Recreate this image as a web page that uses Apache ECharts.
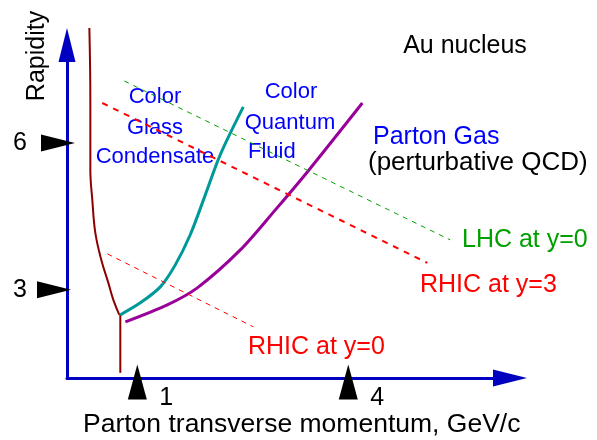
<!DOCTYPE html>
<html>
<head>
<meta charset="utf-8">
<title>Rapidity vs parton momentum</title>
<script src="https://cdn.jsdelivr.net/npm/echarts@6/dist/echarts.min.js"></script>
<style>
* { margin: 0; padding: 0; }
body { background: #fff; }
</style>
</head>
<body>
<div id="main" style="width:597px;height:440px;"></div>
<script>
// axis ranges (GeV/c on x, rapidity on y)
var xMin = 0, xMax = 6.3;
var yMin = 1.2, yMax = 8.0;

// tick marks shown as black triangles
var xTicks = [1, 4];
var yTicks = [6, 3];

// saturation boundary (brown)
var satX = [0.318, 0.332, 0.332, 0.36, 0.403, 0.488, 0.588, 0.659, 0.744];
var satY = [8.347, 6.878, 5.449, 4.837, 4.163, 3.612, 3.143, 2.796, 2.49];
// its vertical tail
var tailX = [0.758, 0.758];
var tailY = [2.49, 1.306];

// color glass condensate / quantum fluid border (teal)
var cgcX = [0.758, 1.043, 1.327, 1.54, 1.754, 1.967, 2.18, 2.507];
var cgcY = [2.49, 2.735, 3.061, 3.51, 4.13, 4.94, 5.76, 6.735];

// quantum fluid / parton gas border (purple)
var cqfX = [0.83, 1.427, 1.853, 2.465, 2.963, 3.418, 4.2];
var cqfY = [2.347, 2.694, 3.041, 3.816, 4.633, 5.408, 6.816];

// collider lines
var lhcX = [0.815, 5.45], lhcY = [7.265, 4.02];
var rhic3X = [0.502, 5.124], rhic3Y = [6.816, 3.551];
var rhic0X = [0.574, 2.65], rhic0Y = [3.735, 2.245];

function pairs(xs, ys) {
  var out = [];
  for (var i = 0; i < xs.length; i++) out.push([xs[i], ys[i]]);
  return out;
}

var font = '"Liberation Sans", Arial, sans-serif';
var axisBlue = '#0000c0';

function txt(text, x, y, size, color, align, rot) {
  return {
    type: 'text',
    x: x,
    y: y,
    rotation: rot || 0,
    style: {
      text: text,
      fontFamily: font,
      fontSize: size,
      fill: color,
      align: align || 'center',
      verticalAlign: 'middle'
    }
  };
}

var chart = echarts.init(document.getElementById('main'));
chart.setOption({
  animation: false,
  grid: { left: 67, right: 87, top: 45, bottom: 62 },
  xAxis: {
    type: 'value',
    min: xMin,
    max: xMax,
    axisLine: {
      onZero: false,
      symbol: ['none', 'triangle'],
      symbolSize: [17, 34],
      lineStyle: { color: axisBlue, width: 3 }
    },
    axisTick: { show: false },
    splitLine: { show: false },
    axisLabel: {
      customValues: xTicks,
      margin: 8,
      padding: [0, 0, 0, 58],
      fontFamily: font,
      fontSize: 25,
      color: '#000'
    }
  },
  yAxis: {
    type: 'value',
    min: yMin,
    max: yMax,
    axisLine: {
      onZero: false,
      symbol: ['none', 'triangle'],
      symbolSize: [17, 34],
      lineStyle: { color: axisBlue, width: 3 }
    },
    axisTick: { show: false },
    splitLine: { show: false },
    axisLabel: {
      customValues: yTicks,
      margin: 40,
      fontFamily: font,
      fontSize: 25,
      color: '#000'
    }
  },
  series: [
    {
      type: 'line',
      data: pairs(satX, satY),
      smooth: 0.4,
      showSymbol: false,
      clip: false,
      lineStyle: { color: '#8c0000', width: 2 }
    },
    {
      type: 'line',
      data: pairs(tailX, tailY),
      showSymbol: false,
      lineStyle: { color: '#8c0000', width: 2 }
    },
    {
      type: 'line',
      data: pairs(cgcX, cgcY),
      smooth: 0.3,
      showSymbol: false,
      lineStyle: { color: '#009999', width: 3 }
    },
    {
      type: 'line',
      data: pairs(cqfX, cqfY),
      smooth: 0.3,
      showSymbol: false,
      lineStyle: { color: '#990099', width: 3 }
    },
    {
      type: 'line',
      data: pairs(lhcX, lhcY),
      showSymbol: false,
      lineStyle: { color: '#00a000', width: 1, type: [5, 5] }
    },
    {
      type: 'line',
      data: pairs(rhic3X, rhic3Y),
      showSymbol: false,
      lineStyle: { color: '#ff0000', width: 2, type: [6, 6] }
    },
    {
      type: 'line',
      data: pairs(rhic0X, rhic0Y),
      showSymbol: false,
      lineStyle: { color: '#ff0000', width: 1, type: [5, 5] }
    },
    // triangles on the x axis
    {
      type: 'scatter',
      clip: false,
      symbol: 'triangle',
      symbolSize: [19, 35],
      symbolOffset: [0, 4],
      itemStyle: { color: '#000', opacity: 1 },
      data: xTicks.map(function (v) { return [v, yMin]; })
    },
    // triangles on the y axis, pointing right
    {
      type: 'scatter',
      clip: false,
      symbol: 'triangle',
      symbolSize: [17, 34],
      symbolRotate: -90,
      itemStyle: { color: '#000', opacity: 1 },
      data: [
        { value: [xMin, yTicks[0]], symbolOffset: [-9, 0] },
        { value: [xMin, yTicks[1]], symbolOffset: [-13, 0] }
      ]
    }
  ],
  graphic: [
    txt('Rapidity', 37, 56, 25, '#000', 'center', Math.PI / 2),
    txt('Au nucleus', 465, 46, 25, '#000'),
    txt('Color', 155, 97, 22, '#0000ff'),
    txt('Glass', 155, 128, 22, '#0000ff'),
    txt('Condensate', 155, 157, 22, '#0000ff'),
    txt('Color', 291, 92, 22, '#0000ff'),
    txt('Quantum', 290, 123, 22, '#0000ff'),
    txt('Fluid', 248, 152, 22, '#0000ff', 'left'),
    txt('Parton Gas', 373, 137, 25, '#0000ff', 'left'),
    txt('(perturbative QCD)', 368, 163, 26, '#000', 'left'),
    txt('LHC at y=0', 462, 240, 25, '#00a000', 'left'),
    txt('RHIC at y=3', 420, 285, 25, '#ff0000', 'left'),
    txt('RHIC at y=0', 248, 347, 25, '#ff0000', 'left'),
    txt('Parton transverse momentum, GeV/c', 83, 425, 26.5, '#000', 'left')
  ]
});
</script>
</body>
</html>
